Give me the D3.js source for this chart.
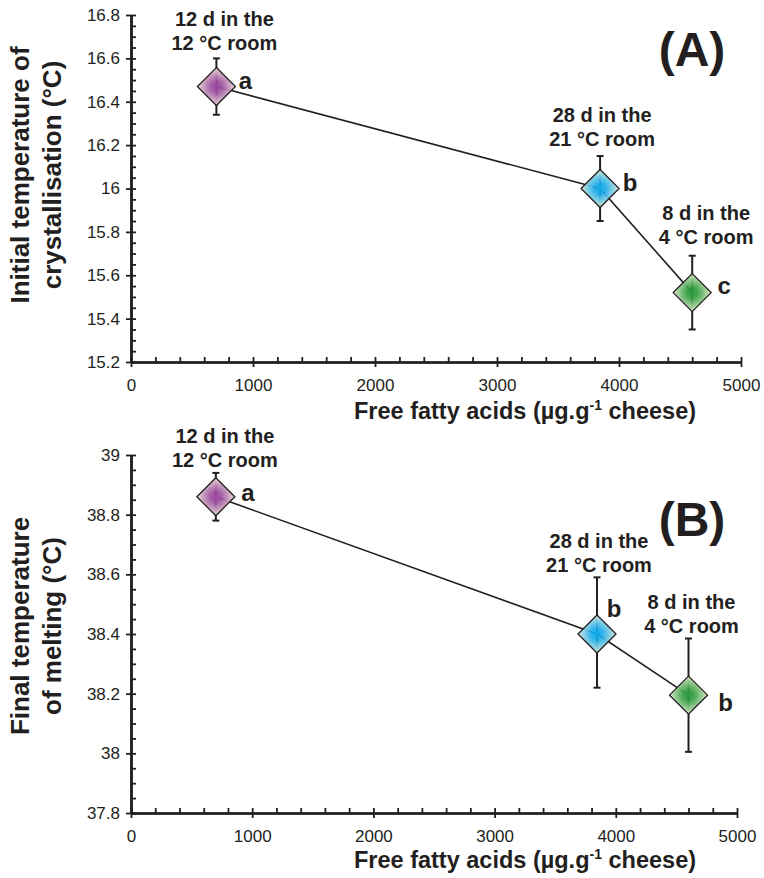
<!DOCTYPE html>
<html><head><meta charset="utf-8">
<script src="https://cdn.jsdelivr.net/npm/d3@7"></script>
<style>body{margin:0;background:#fff;} svg{display:block;font-family:"Liberation Sans",Arial,sans-serif;}</style>
</head><body>
<script>
// ---- data ----
const ffa = [700, 3845, 4600];
const storage = [["12 d in the", "12 °C room"], ["28 d in the", "21 °C room"], ["8 d in the", "4 °C room"]];
const crystT = [16.47, 16.0, 15.52];
const crystErrUp = [0.13, 0.15, 0.17];
const crystErrDn = [0.13, 0.15, 0.17];
const crystLetters = ["a", "b", "c"];
const meltT = [38.86, 38.40, 38.195];
const meltErrUp = [0.08, 0.19, 0.19];
const meltErrDn = [0.08, 0.18, 0.19];
const meltLetters = ["a", "b", "b"];
const xTicks = [0, 1000, 2000, 3000, 4000, 5000];
const crystTicks = [15.2, 15.4, 15.6, 15.8, 16, 16.2, 16.4, 16.6, 16.8];
const meltTicks = [37.8, 38, 38.2, 38.4, 38.6, 38.8, 39];
const pointColors = ["#9b4a9f", "#12a9ea", "#2e9b3e"];

const W = 764, H = 878;
const svg = d3.select("body").append("svg").attr("width", W).attr("height", H);
const defs = svg.append("defs");
pointColors.forEach((c, i) => {
  const g = defs.append("radialGradient").attr("id", "g" + i).attr("cx", "50%").attr("cy", "50%").attr("r", "55%");
  g.append("stop").attr("offset", "0%").attr("stop-color", c);
  g.append("stop").attr("offset", "25%").attr("stop-color", c).attr("stop-opacity", 0.9);
  g.append("stop").attr("offset", "100%").attr("stop-color", "#f6f4dc");
});

function panel(cfg) {
  const x = d3.scaleLinear().domain([0, 5000]).range([cfg.x0, cfg.x1]);
  const y = d3.scaleLinear().domain(cfg.yDomain).range([cfg.yBottom, cfg.yTop]);
  const g = svg.append("g");
  const minorX = d3.range(0, 5001, 200).filter(v => v % 1000 !== 0);
  const step = 0.05;
  const minorY = d3.range(Math.round(cfg.yDomain[0] / step), Math.round(cfg.yDomain[1] / step) + 1)
    .map(k => +(k * step).toFixed(2)).filter(v => Math.abs(v / 0.2 - Math.round(v / 0.2)) > 1e-6);

  // x axis
  const xa = g.append("g").attr("transform", `translate(0,${cfg.yBottom})`);
  xa.call(d3.axisBottom(x).tickValues(xTicks).tickSize(5).tickSizeOuter(0).tickFormat(d3.format("d")).tickPadding(12));
  xa.append("g").call(d3.axisBottom(x).tickValues(xTicks).tickSize(-5).tickSizeOuter(0).tickFormat(""));
  xa.append("g").call(d3.axisBottom(x).tickValues(minorX).tickSize(-5).tickSizeOuter(0).tickFormat(""));
  // y axis
  const ya = g.append("g").attr("transform", `translate(${cfg.x0},0)`);
  ya.call(d3.axisLeft(y).tickValues(cfg.yTicks).tickSize(5).tickSizeOuter(0).tickFormat(d => d3.format("")(d)).tickPadding(6));
  ya.append("g").call(d3.axisLeft(y).tickValues(cfg.yTicks).tickSize(-5).tickSizeOuter(0).tickFormat(""));
  ya.append("g").call(d3.axisLeft(y).tickValues(minorY).tickSize(-5).tickSizeOuter(0).tickFormat(""));
  g.selectAll(".domain").attr("stroke", "#231f20").attr("stroke-width", 2.2);
  g.selectAll(".tick line").attr("stroke", "#231f20").attr("stroke-width", 1.8);
  g.selectAll(".tick text").attr("font-size", 17).attr("fill", "#231f20").attr("font-family", "Liberation Sans, Arial, sans-serif");

  // axis titles
  g.append("text").attr("x", cfg.xTitleX).attr("y", cfg.xTitleY).attr("text-anchor", "middle")
    .attr("font-size", 23.5).attr("font-weight", "bold").attr("fill", "#231f20")
    .call(t => {
      t.append("tspan").text("Free fatty acids (µg.g");
      t.append("tspan").text("-1").attr("font-size", 14).attr("dy", -9);
      t.append("tspan").text(" cheese)").attr("dy", 9);
    });
  const yt = g.append("text").attr("transform", `translate(${cfg.yTitleX},${cfg.yTitleY}) rotate(-90)`)
    .attr("text-anchor", "middle").attr("font-size", 26).attr("font-weight", "bold").attr("fill", "#231f20");
  cfg.yTitle.forEach((line, i) => yt.append("tspan").attr("x", 0).attr("dy", i === 0 ? 0 : 32).text(line));

  // panel label
  g.append("text").attr("x", cfg.labelX).attr("y", cfg.labelY).attr("text-anchor", "middle")
    .attr("font-size", 48).attr("font-weight", "bold").attr("fill", "#231f20").text(cfg.label);

  const pts = ffa.map((f, i) => ({ f, v: cfg.vals[i], up: cfg.errUp[i], dn: cfg.errDn[i], i }));
  // connecting line
  g.append("path").datum(pts).attr("fill", "none").attr("stroke", "#231f20").attr("stroke-width", 1.6)
    .attr("d", d3.line().x(d => x(d.f)).y(d => y(d.v)));
  // error bars
  const eb = g.selectAll(".eb").data(pts).enter().append("g").attr("stroke", "#231f20").attr("stroke-width", 2);
  eb.append("line").attr("x1", d => x(d.f)).attr("x2", d => x(d.f)).attr("y1", d => y(d.v + d.up)).attr("y2", d => y(d.v - d.dn));
  eb.append("line").attr("x1", d => x(d.f) - 3.5).attr("x2", d => x(d.f) + 3.5).attr("y1", d => y(d.v + d.up)).attr("y2", d => y(d.v + d.up));
  eb.append("line").attr("x1", d => x(d.f) - 3.5).attr("x2", d => x(d.f) + 3.5).attr("y1", d => y(d.v - d.dn)).attr("y2", d => y(d.v - d.dn));
  // diamonds
  const r = 19;
  g.selectAll(".pt").data(pts).enter().append("path")
    .attr("d", d => `M${x(d.f)},${y(d.v) - r}L${x(d.f) + r},${y(d.v)}L${x(d.f)},${y(d.v) + r}L${x(d.f) - r},${y(d.v)}Z`)
    .attr("fill", d => `url(#g${d.i})`).attr("stroke", "#231f20").attr("stroke-width", 1.3);
  // letters
  g.selectAll(".lt").data(pts).enter().append("text")
    .attr("x", d => x(d.f) + cfg.letterOff[d.i][0]).attr("y", d => y(d.v) + cfg.letterOff[d.i][1])
    .attr("font-size", 24).attr("font-weight", "bold").attr("fill", "#231f20").attr("text-anchor", "middle")
    .text(d => cfg.letters[d.i]);
  // storage labels
  pts.forEach(d => {
    const base = y(d.v + d.up) + cfg.storageOff[d.i][1];
    const t = g.append("text").attr("text-anchor", "middle").attr("font-size", 20).attr("font-weight", "bold").attr("fill", "#231f20");
    storage[d.i].forEach((line, k) => t.append("tspan").attr("x", x(d.f) + cfg.storageOff[d.i][0]).attr("y", base - (1 - k) * 24).text(line));
  });
}

panel({
  x0: 131, x1: 741, yTop: 15, yBottom: 362, yDomain: [15.2, 16.8], yTicks: crystTicks,
  vals: crystT, errUp: crystErrUp, errDn: crystErrDn, letters: crystLetters,
  letterOff: [[29, 2], [30, 2], [32, 1]], storageOff: [[8, -8], [2, -10], [14, -12]],
  xTitleX: 525, xTitleY: 419, yTitleX: 29, yTitleY: 175,
  yTitle: ["Initial temperature of", "crystallisation (°C)"], label: "(A)", labelX: 692, labelY: 66
});
panel({
  x0: 131, x1: 737, yTop: 455, yBottom: 813, yDomain: [37.8, 39], yTicks: meltTicks,
  vals: meltT, errUp: meltErrUp, errDn: meltErrDn, letters: meltLetters,
  letterOff: [[32, 4], [17, -17], [37, 16]], storageOff: [[9, -6], [2, -5], [3, -5]],
  xTitleX: 525, xTitleY: 868, yTitleX: 29, yTitleY: 626,
  yTitle: ["Final temperature", "of melting (°C)"], label: "(B)", labelX: 692, labelY: 536
});
</script>
</body></html>
